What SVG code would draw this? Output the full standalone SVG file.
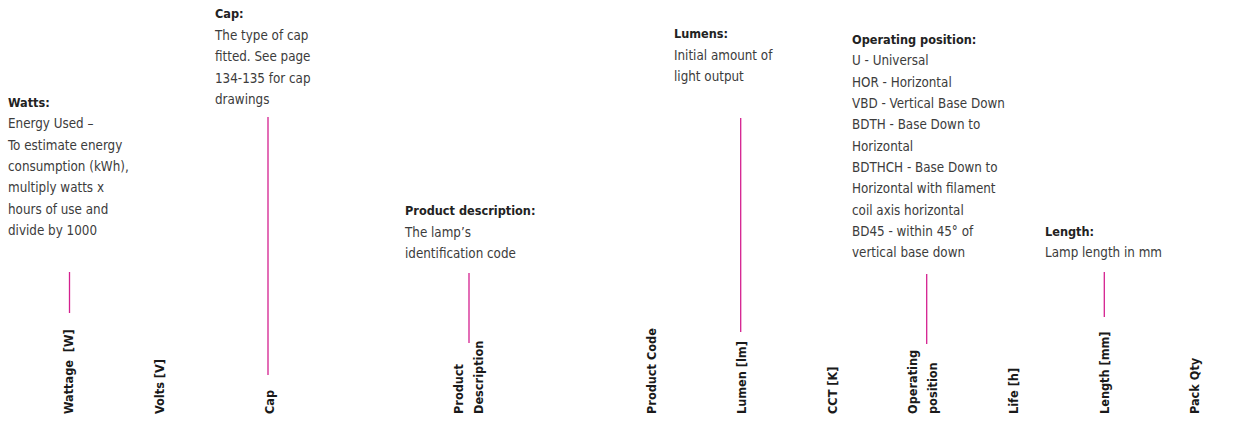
<svg xmlns="http://www.w3.org/2000/svg" width="1242" height="421" viewBox="0 0 1242 421">
<style>
text{font-family:"DejaVu Sans Condensed","Liberation Sans",Arial,sans-serif;font-size:13.3px}
.t{font-weight:bold;fill:#222;font-size:12.6px}
.b{fill:#3c3c3c}
.c{font-weight:bold;fill:#1a1a1a;font-size:12.6px}
.ln{stroke:#d4208f;stroke-width:1.3;fill:none}
</style>
<rect width="1242" height="421" fill="#fff"/>
<g id="connectors">
<line class="ln" x1="69.5" y1="272" x2="69.5" y2="313"/>
<line class="ln" x1="268" y1="117" x2="268" y2="375"/>
<line class="ln" x1="469" y1="273" x2="469" y2="343"/>
<line class="ln" x1="740.7" y1="118" x2="740.7" y2="332"/>
<line class="ln" x1="926.7" y1="274" x2="926.7" y2="344"/>
<line class="ln" x1="1104.3" y1="272" x2="1104.3" y2="317"/>
</g>
<g id="note-watts">
<text class="t" x="8" y="107">Watts:</text>
<text class="b" x="8" y="128">Energy Used –</text>
<text class="b" x="8" y="150">To estimate energy</text>
<text class="b" x="8" y="171">consumption (kWh),</text>
<text class="b" x="8" y="192">multiply watts x</text>
<text class="b" x="8" y="214">hours of use and</text>
<text class="b" x="8" y="235">divide by 1000</text>
</g>
<g id="note-cap">
<text class="t" x="215" y="18">Cap:</text>
<text class="b" x="215" y="40">The type of cap</text>
<text class="b" x="215" y="61">fitted. See page</text>
<text class="b" x="215" y="82.5">134-135 for cap</text>
<text class="b" x="215" y="103.5">drawings</text>
</g>
<g id="note-product">
<text class="t" x="405" y="215">Product description:</text>
<text class="b" x="405" y="236.5">The lamp’s</text>
<text class="b" x="405" y="257.5">identification code</text>
</g>
<g id="note-lumens">
<text class="t" x="674" y="38">Lumens:</text>
<text class="b" x="674" y="60">Initial amount of</text>
<text class="b" x="674" y="81">light output</text>
</g>
<g id="note-operating">
<text class="t" x="852" y="44">Operating position:</text>
<text class="b" x="852" y="65">U - Universal</text>
<text class="b" x="852" y="86.5">HOR - Horizontal</text>
<text class="b" x="852" y="108">VBD - Vertical Base Down</text>
<text class="b" x="852" y="129">BDTH - Base Down to</text>
<text class="b" x="852" y="150.5">Horizontal</text>
<text class="b" x="852" y="172">BDTHCH - Base Down to</text>
<text class="b" x="852" y="193">Horizontal with filament</text>
<text class="b" x="852" y="214.5">coil axis horizontal</text>
<text class="b" x="852" y="236">BD45 - within 45° of</text>
<text class="b" x="852" y="257">vertical base down</text>
</g>
<g id="note-length">
<text class="t" x="1045" y="236">Length:</text>
<text class="b" x="1045" y="257">Lamp length in mm</text>
</g>
<g id="col-wattage"><text class="c" transform="translate(73,414) rotate(-90)" xml:space="preserve">Wattage  [W]</text></g>
<g id="col-volts"><text class="c" transform="translate(163.5,414) rotate(-90)">Volts [V]</text></g>
<g id="col-cap"><text class="c" transform="translate(274,414) rotate(-90)">Cap</text></g>
<g id="col-product-description">
<text class="c" transform="translate(463,414) rotate(-90)">Product</text>
<text class="c" transform="translate(483,414) rotate(-90)">Description</text>
</g>
<g id="col-product-code"><text class="c" transform="translate(656,414) rotate(-90)">Product Code</text></g>
<g id="col-lumen"><text class="c" transform="translate(746,414) rotate(-90)">Lumen [lm]</text></g>
<g id="col-cct"><text class="c" transform="translate(837,414) rotate(-90)">CCT [K]</text></g>
<g id="col-operating">
<text class="c" transform="translate(917,414) rotate(-90)">Operating</text>
<text class="c" transform="translate(937,414) rotate(-90)">position</text>
</g>
<g id="col-life"><text class="c" transform="translate(1018,414) rotate(-90)">Life [h]</text></g>
<g id="col-length"><text class="c" transform="translate(1109,414) rotate(-90)">Length [mm]</text></g>
<g id="col-pack"><text class="c" transform="translate(1199,414) rotate(-90)">Pack Qty</text></g>
</svg>
